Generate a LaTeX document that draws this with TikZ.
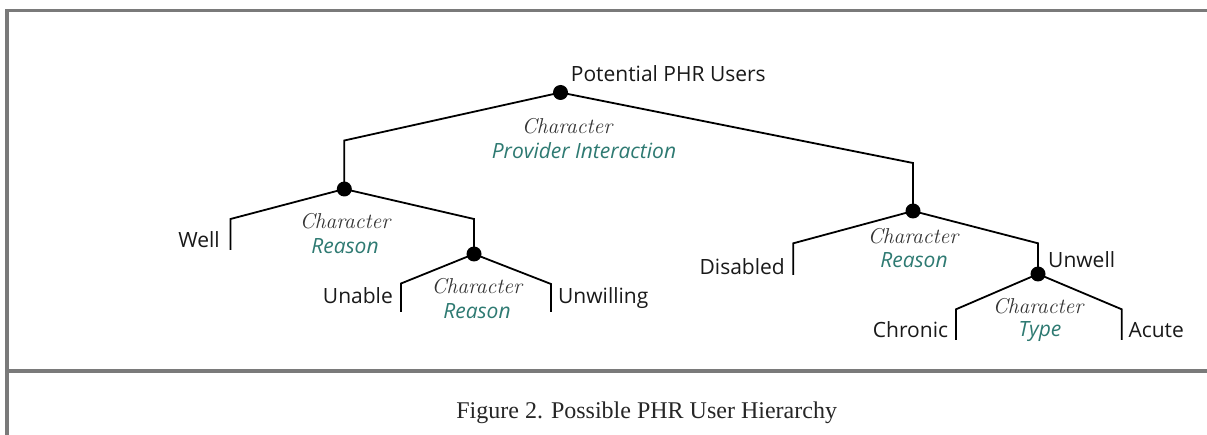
\documentclass[tikz,border=0pt]{standalone}
\usepackage{fontspec}
\newfontfamily\sansf{Open Sans}
\newfontfamily\capfont{Liberation Serif}
\definecolor{tealc}{HTML}{2E7A72}
\definecolor{framegray}{HTML}{7A7A7A}
\definecolor{chargray}{HTML}{333333}
\begin{document}
\begin{tikzpicture}[x=1pt,y=-1pt,
  dot/.style={circle,fill=black,minimum size=15pt,inner sep=0pt},
  edge/.style={line width=1.8pt,line join=miter},
  leaf/.style={font=\sansf\fontsize{21}{24}\selectfont,inner sep=0pt,text=black!90},
  charlbl/.style={font=\itshape\fontsize{21.5}{24}\selectfont,inner sep=0pt,anchor=base,text=chargray},
  kind/.style={font=\sansf\itshape\fontsize{21}{24}\selectfont,inner sep=0pt,anchor=base,text=tealc},
  frameline/.style={line width=3.5pt,draw=framegray}]
\useasboundingbox[fill=white] (0,0) rectangle (1207,435);
% frame
\coordinate (fbl) at (7,435);
\coordinate (ftl) at (7,10.3);
\coordinate (ftr) at (1207,10.3);
\coordinate (dl) at (7,371);
\coordinate (dr) at (1207,371);
\draw[frameline] (fbl) -- (ftl) -- (ftr);
\draw[frameline] (dl) -- (dr);
% dots
\node[dot] (root) at (560.5,92.5) {};
\node[dot] (A) at (344.3,189) {};
\node[dot] (B) at (474,254) {};
\node[dot] (C) at (913,211) {};
\node[dot] (D) at (1038,274) {};
% corners
\coordinate (rl) at (344.3,140.5);
\coordinate (rr) at (913,163);
\coordinate (al) at (230.5,219);
\coordinate (alb) at (230.5,250);
\coordinate (ar) at (474,219);
\coordinate (bl) at (401,283.5);
\coordinate (blb) at (401,312);
\coordinate (br) at (551,284);
\coordinate (brb) at (551,312);
\coordinate (cl) at (793.3,243.3);
\coordinate (clb) at (793.3,275);
\coordinate (cr) at (1038,243.3);
\coordinate (dlc) at (956,309.3);
\coordinate (dlb) at (956,340);
\coordinate (drc) at (1121.7,309.3);
\coordinate (drb) at (1121.7,340);
% edges
\draw[edge] (A.center) -- (rl) -- (root.center) -- (rr) -- (C.center);
\draw[edge] (alb) -- (al) -- (A.center) -- (ar) -- (B.center);
\draw[edge] (blb) -- (bl) -- (B.center) -- (br) -- (brb);
\draw[edge] (clb) -- (cl) -- (C.center) -- (cr) -- (D.center);
\draw[edge] (dlb) -- (dlc) -- (D.center) -- (drc) -- (drb);
% labels
\node[leaf,anchor=base west] (lroot) at (570.7,81.3) {Potential PHR Users};
\node[leaf,anchor=base east] (lwell) at (220,247.5) {Well};
\node[leaf,anchor=base east] (lunable) at (393,304) {Unable};
\node[leaf,anchor=base west] (lunwilling) at (558,304) {Unwilling};
\node[leaf,anchor=base east] (ldisabled) at (785,274.5) {Disabled};
\node[leaf,anchor=base west] (lunwell) at (1048,267.5) {Unwell};
\node[leaf,anchor=base east] (lchronic) at (948.3,337.5) {Chronic};
\node[leaf,anchor=base west] (lacute) at (1128.3,337.5) {Acute};
% characteristic labels
\node[charlbl] (c1) at (567,133.3) {Character};
\node[kind] (k1) at (584,158.3) {Provider Interaction};
\node[charlbl] (c2) at (345,228.3) {Character};
\node[kind] (k2) at (345,253.3) {Reason};
\node[charlbl] (c3) at (476.7,293.3) {Character};
\node[kind] (k3) at (477,318.3) {Reason};
\node[charlbl] (c4) at (913,243.3) {Character};
\node[kind] (k4) at (914,267.7) {Reason};
\node[charlbl] (c5) at (1038,314) {Character};
\node[kind] (k5) at (1040,336.7) {Type};
% caption
\node[font=\capfont\fontsize{24}{28}\selectfont,inner sep=0pt,anchor=base,text=black!85] (cap) at (646.7,418.3) {Figure 2. Possible PHR User Hierarchy};
\end{tikzpicture}
\end{document}
